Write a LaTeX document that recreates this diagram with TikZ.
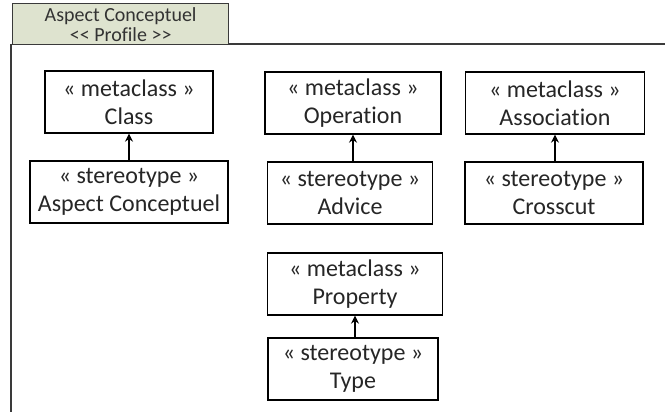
\documentclass[tikz,border=0pt]{standalone}
\usepackage{fontspec}
\setmainfont{Carlito}[Ligatures=NoCommon]
\usetikzlibrary{arrows.meta}
\definecolor{tabfill}{HTML}{DEE3CF}
\definecolor{tabline}{HTML}{3A3A3A}
\begin{document}
\begin{tikzpicture}[x=1pt,y=-1pt,
  umlbox/.style={draw=black, line width=1.3pt, minimum height=62pt, align=center, inner sep=0pt, font=\fontsize{24}{28}\selectfont, text=black!85},
  ext/.style={-{Stealth[length=8pt,width=8pt]}, line width=1.3pt}]
\useasboundingbox (0,0) rectangle (665,412);
\fill[white] (0,0) rectangle (665,412);
% frame
\draw[line width=1.3pt, tabline] (228,44) -- (665,44);
\draw[line width=1.3pt, tabline] (11,44) -- (11,412);
\node[draw=tabline, line width=1.3pt, fill=tabfill, minimum width=216pt, minimum height=41pt, inner sep=0pt, align=center, font=\fontsize{20}{20}\selectfont, text=black!80, anchor=north west] (tab) at (12,3) {Aspect Conceptuel\\{<}{<} Profile {>}{>}};
% metaclasses
\node[umlbox, minimum width=168pt] (class) at (129,102) {« metaclass »\\Class};
\node[umlbox, minimum width=176pt] (oper) at (353,103) {« metaclass »\\Operation};
\node[umlbox, minimum width=179pt] (assoc) at (555,103) {« metaclass »\\Association};
\node[umlbox, minimum width=175pt] (prop) at (355,284) {« metaclass »\\Property};
% stereotypes
\node[umlbox, minimum width=198pt] (asp) at (129,192) {« stereotype »\\Aspect Conceptuel};
\node[umlbox, minimum width=165pt] (adv) at (350,193) {« stereotype »\\Advice};
\node[umlbox, minimum width=178pt] (cross) at (554,193) {« stereotype »\\Crosscut};
\node[umlbox, minimum width=170pt] (type) at (353,369) {« stereotype »\\Type};
% arrows
\draw[ext] (asp.north -| class.south) -- (class.south);
\draw[ext] (adv.north -| oper.south) -- (oper.south);
\draw[ext] (cross.north -| assoc.south) -- (assoc.south);
\draw[ext] (type.north -| prop.south) -- (prop.south);
\end{tikzpicture}
\end{document}
